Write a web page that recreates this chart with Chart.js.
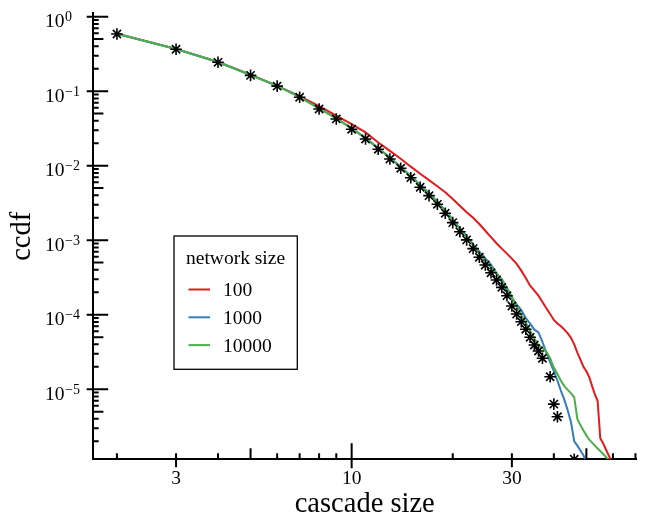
<!DOCTYPE html>
<html lang="en">
<head>
    <meta charset="UTF-8">
    <title>cascade size ccdf</title>
    <script src="https://cdn.jsdelivr.net/npm/chart.js"></script>
    <style>
        body { margin: 0; background: #fff; }
        #chart { display: block; }
    </style>
</head>
<body>
    <canvas id="chart" width="647" height="519"></canvas>

    <script>
        // x values shared by the simulated curves
        const cascadeSizes = [2, 3, 4, 5, 6, 7, 8, 9, 10, 11, 12, 13, 14, 15, 16, 17, 18, 19, 20, 21,
            22, 23, 24, 25, 26, 27, 28, 29, 30, 31, 32, 33, 34, 35, 36, 37, 38, 39, 40, 41,
            42, 43, 44, 45, 46, 47, 48, 49, 50, 51, 52, 53, 54, 55, 56, 57, 58, 59, 60];

        // network size 100
        const ccdf100 = [0.59, 0.37, 0.247, 0.167, 0.118, 0.086, 0.063, 0.047, 0.036, 0.028,
            0.0205, 0.0158, 0.0124, 0.0097, 0.0078, 0.0064, 0.0053, 0.0044, 0.00356, 0.0029,
            0.00238, 0.002, 0.00165, 0.00134, 0.0011, 0.00091, 0.00077, 0.00066, 0.000565, 0.00048,
            0.00039, 0.00031, 0.000245, 0.00021, 0.00018, 0.000148, 0.000122, 0.000102, 8.5e-5, 7.6e-5,
            7.0e-5, 6.3e-5, 5.6e-5, 4.9e-5, 4.0e-5, 3.1e-5, 2.5e-5, 2.0e-5, 1.74e-5, 1.45e-5,
            1.1e-5, 8.5e-6, 7.0e-6, 2.2e-6, 1.9e-6, 1.6e-6, 1.35e-6, 1.15e-6, 9.5e-7];

        // network size 1000
        const ccdf1000 = [0.59, 0.368, 0.246, 0.165, 0.118, 0.084, 0.059, 0.0435, 0.0318, 0.0236,
            0.0173, 0.0129, 0.0097, 0.0073, 0.0055, 0.0043, 0.0033, 0.00252, 0.0019, 0.00145,
            0.00113, 0.00088, 0.0007, 0.00057, 0.00047, 0.00036, 0.000275, 0.00021, 0.000165, 0.000138,
            0.000115, 9.0e-5, 7.6e-5, 6.3e-5, 5.8e-5, 4.3e-5, 3.1e-5, 2.3e-5, 1.75e-5, 1.3e-5,
            9.5e-6, 7.2e-6, 5.2e-6, 3.6e-6, 2.0e-6, 1.75e-6, 1.5e-6, 1.3e-6, 1.05e-6];

        // network size 10000
        const ccdf10000 = [0.59, 0.368, 0.246, 0.165, 0.118, 0.0835, 0.0585, 0.043, 0.0314, 0.0232,
            0.017, 0.0127, 0.0095, 0.0072, 0.0054, 0.0042, 0.0032, 0.00245, 0.00185, 0.00142,
            0.0011, 0.00085, 0.00066, 0.00053, 0.00043, 0.00036, 0.0003, 0.00023, 0.000175, 0.00013,
            9.8e-5, 7.8e-5, 6.1e-5, 4.8e-5, 3.9e-5, 3.6e-5, 3.2e-5, 2.6e-5, 1.95e-5, 1.6e-5,
            1.3e-5, 1.1e-5, 9.8e-6, 8.8e-6, 7.8e-6, 4.0e-6, 3.3e-6, 2.8e-6, 2.4e-6, 2.1e-6,
            1.92e-6, 1.75e-6, 1.6e-6, 1.48e-6, 1.36e-6, 1.25e-6, 1.15e-6, 1.05e-6];

        // measured data (asterisks)
        const obsSizes = [2, 3, 4, 5, 6, 7, 8, 9, 10, 11, 12, 13, 14, 15, 16, 17, 18, 19, 20, 21,
            22, 23, 24, 25, 26, 27, 28, 29, 30, 31, 32, 33, 34, 35, 36, 37, 39, 40, 41, 46];
        const obsCcdf = [0.586, 0.365, 0.244, 0.163, 0.117, 0.0828, 0.0577, 0.0424, 0.0308, 0.0228,
            0.0166, 0.0123, 0.00923, 0.0069, 0.00513, 0.00396, 0.00303, 0.0023, 0.00172, 0.0013,
            0.00101, 0.00077, 0.00059, 0.000464, 0.000366, 0.000292, 0.000233, 0.00018, 0.000131, 0.000102,
            8.06e-5, 6.37e-5, 4.97e-5, 3.92e-5, 3.26e-5, 2.6e-5, 1.47e-5, 6.3e-6, 4.27e-6, 1.15e-6];

        const networkSizes = ['100', '1000', '10000'];
        const lineColors = ['#e41a1c', '#377eb8', '#4daf4a'];

        // tick marks / labels
        const xTickValues = [2, 3, 4, 5, 6, 7, 8, 9, 10, 20, 30, 40, 50, 60, 70];
        const xTickLabels = [3, 10, 30];
        const yDecades = [0, -1, -2, -3, -4, -5];

        const FONT = "'Liberation Serif', 'Times New Roman', serif";

        function toPoints(xs, ys) {
            return ys.map((y, i) => ({ x: xs[i], y: y }));
        }

        // tick marks, y labels with superscript exponents, legend box
        const decorPlugin = {
            id: 'decor',
            afterDraw(chart) {
                const ctx = chart.ctx;
                const xs = chart.scales.x;
                const ys = chart.scales.y;
                const area = chart.chartArea;
                ctx.save();
                ctx.strokeStyle = '#000';
                ctx.lineWidth = 2;
                ctx.beginPath();
                xs.ticks.forEach(t => {
                    const v = t.value;
                    const px = xs.getPixelForValue(v);
                    let up = 6, down = 0;
                    if (v === 10) { up = 16; down = 9; }
                    else if (v === 3 || v === 30) { up = 6; down = 8; }
                    else if (v === 5 || v === 50) { up = 11; }
                    ctx.moveTo(px, area.bottom - up);
                    ctx.lineTo(px, area.bottom + down);
                });
                ys.ticks.forEach(t => {
                    const v = t.value;
                    const py = ys.getPixelForValue(v);
                    const m = Math.round(v / Math.pow(10, Math.floor(Math.log10(v) + 1e-9)));
                    let inner = 6, outer = 0;
                    if (m === 1) { inner = 15.5; outer = 6; }
                    else if (m === 5) { inner = 10.7; }
                    ctx.moveTo(area.left - outer, py);
                    ctx.lineTo(area.left + inner, py);
                });
                ctx.stroke();

                // y labels 10^k
                ctx.fillStyle = '#000';
                ctx.textAlign = 'left';
                ctx.textBaseline = 'alphabetic';
                yDecades.forEach(k => {
                    const py = ys.getPixelForValue(Math.pow(10, k));
                    ctx.font = '19.5px ' + FONT;
                    ctx.fillText('10', 45, py + 10.5);
                    const w = ctx.measureText('10').width;
                    ctx.font = '14px ' + FONT;
                    const exp = k === 0 ? '0' : '\u2212' + (-k);
                    ctx.fillText(exp, 45 + w + 0.5, py + 4.5);
                });

                // legend
                const bx = 174, by = 236, bw = 123.3, bh = 133.3;
                ctx.fillStyle = '#fff';
                ctx.fillRect(bx, by, bw, bh);
                ctx.lineWidth = 1.3;
                ctx.strokeStyle = '#000';
                ctx.strokeRect(bx, by, bw, bh);
                ctx.fillStyle = '#000';
                ctx.font = '19.5px ' + FONT;
                ctx.fillText('network size', 186, 264);
                networkSizes.forEach((label, i) => {
                    const ly = 289.5 + i * 27.8;
                    ctx.strokeStyle = lineColors[i];
                    ctx.lineWidth = 2;
                    ctx.beginPath();
                    ctx.moveTo(188.5, ly);
                    ctx.lineTo(210, ly);
                    ctx.stroke();
                    ctx.fillText(label, 223, ly + 6.5);
                });
                ctx.restore();
            }
        };

        const datasets = [
            {
                label: 'data',
                data: toPoints(obsSizes, obsCcdf),
                showLine: false,
                pointStyle: 'star',
                pointRadius: 5.8,
                pointBorderWidth: 1.6,
                pointBorderColor: '#000',
                borderColor: '#000',
                clip: 0,
                order: 0
            }
        ];
        [ccdf100, ccdf1000, ccdf10000].forEach((vals, i) => {
            datasets.push({
                label: networkSizes[i],
                data: toPoints(cascadeSizes, vals),
                borderColor: lineColors[i],
                borderWidth: 2,
                pointRadius: 0,
                tension: 0,
                fill: false,
                clip: 0,
                order: 3 - i
            });
        });

        new Chart(document.getElementById('chart'), {
            type: 'line',
            data: { datasets: datasets },
            options: {
                responsive: false,
                animation: false,
                devicePixelRatio: 1,
                layout: { padding: { top: 13.3, right: 10.3, left: 0, bottom: 0 } },
                plugins: {
                    legend: { display: false },
                    tooltip: { enabled: false }
                },
                scales: {
                    x: {
                        type: 'logarithmic',
                        min: 1.694,
                        max: 70.6,
                        grid: { display: false, drawTicks: false },
                        border: { display: true, color: '#000', width: 2 },
                        afterBuildTicks(scale) {
                            scale.ticks = xTickValues.map(v => ({ value: v }));
                        },
                        afterFit(scale) { scale.height = 59.7; },
                        ticks: {
                            autoSkip: false,
                            maxRotation: 0,
                            padding: 8.3,
                            color: '#000',
                            font: { family: FONT, size: 19.5 },
                            callback: v => xTickLabels.includes(v) ? String(v) : ''
                        },
                        title: {
                            display: true,
                            text: 'cascade size',
                            color: '#000',
                            font: { family: FONT, size: 28.5, lineHeight: 1 },
                            padding: { top: 0, bottom: 0 }
                        }
                    },
                    y: {
                        type: 'logarithmic',
                        min: 1.146e-6,
                        max: 1.11,
                        grid: { display: false, drawTicks: false },
                        border: { display: true, color: '#000', width: 2 },
                        afterBuildTicks(scale) {
                            const list = [];
                            for (let e = -6; e <= 0; e++) {
                                for (let m = 1; m <= 9; m++) {
                                    const v = m * Math.pow(10, e);
                                    if (v >= scale.min && v <= scale.max) list.push({ value: v });
                                }
                            }
                            scale.ticks = list;
                        },
                        afterFit(scale) { scale.width = 92.7; },
                        ticks: { display: false },
                        title: {
                            display: true,
                            text: 'ccdf',
                            color: '#000',
                            font: { family: FONT, size: 28.5, lineHeight: 1 },
                            padding: { top: 8, bottom: 0 }
                        }
                    }
                }
            },
            plugins: [decorPlugin]
        });
    </script>
</body>
</html>
